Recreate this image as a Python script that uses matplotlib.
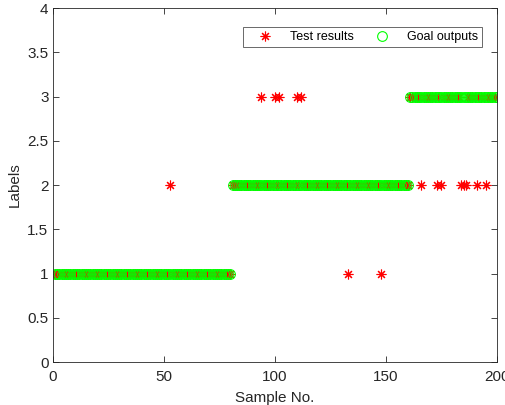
import numpy as np
import matplotlib.pyplot as plt

plt.rcParams['font.family'] = ['Liberation Sans', 'DejaVu Sans']

# sample numbers and target classes
samples = np.arange(1, 201)
goal_outputs = [1] * 80 + [2] * 80 + [3] * 40

# samples where the test result differs from the goal
wrong_samples = [53, 94, 100, 102, 110, 112, 133, 148,
                 166, 173, 175, 184, 185, 186, 191, 195]
wrong_labels = [2, 3, 3, 3, 3, 3, 1, 1,
                2, 2, 2, 2, 2, 2, 2, 2]

test_results = list(goal_outputs)
for s, lab in zip(wrong_samples, wrong_labels):
    test_results[s - 1] = lab

fig = plt.figure(figsize=(5.06, 4.05), dpi=100)
ax = fig.add_axes([0.104, 0.106, 0.878, 0.874])

ax.plot(samples, test_results, linestyle='none', marker=(8, 2, 0), color='red',
        markersize=7, markeredgewidth=0.8, label='Test results')
ax.plot(samples, goal_outputs, linestyle='none', marker='o', markerfacecolor='none',
        markeredgecolor=(0, 1, 0), markersize=7, markeredgewidth=0.8, label='Goal outputs')

ax.set_xlim(0, 200)
ax.set_ylim(0, 4)
ax.set_xticks([0, 50, 100, 150, 200])
ax.set_yticks(np.arange(0, 4.01, 0.5))
ax.set_yticklabels(['0', '0.5', '1', '1.5', '2', '2.5', '3', '3.5', '4'])
ax.set_xlabel('Sample No.', fontsize=11, color='#262626', labelpad=5)
ax.set_ylabel('Labels', fontsize=11, color='#262626', labelpad=4)

ax.tick_params(direction='in', length=4, width=0.6, top=True, right=True,
               labelsize=11, colors='#262626', pad=3)
ax.tick_params(axis='x', pad=6)
for sp in ax.spines.values():
    sp.set_linewidth(0.6)
    sp.set_color('#262626')

leg = ax.legend(ncol=2, loc='upper right', bbox_to_anchor=(0.966, 0.946),
                fontsize=9, frameon=True, fancybox=False, edgecolor='#262626',
                handletextpad=0.55, columnspacing=0.8, borderpad=0.3,
                handlelength=2.9, borderaxespad=0)
leg.get_frame().set_linewidth(0.6)

fig.savefig('out.png', dpi=100)
